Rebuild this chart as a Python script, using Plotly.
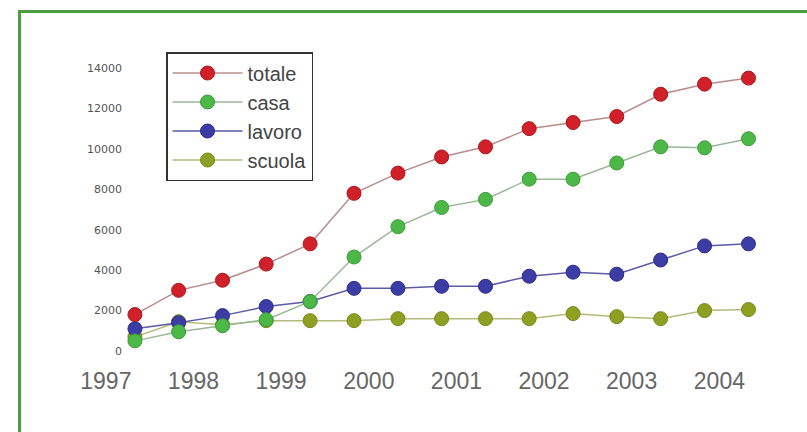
import plotly.graph_objects as go

# semester observation dates (x categories)
dates = ["1997-10-01", "1998-04-01", "1998-10-01", "1999-04-01", "1999-10-01",
         "2000-04-01", "2000-10-01", "2001-04-01", "2001-10-01", "2002-04-01",
         "2002-10-01", "2003-04-01", "2003-10-01", "2004-04-01", "2004-10-01"]

totale = [1800, 3000, 3500, 4300, 5300, 7800, 8800, 9600, 10100, 11000, 11300, 11600, 12700, 13200, 13500]
casa = [500, 950, 1250, 1550, 2450, 4650, 6150, 7100, 7500, 8500, 8500, 9300, 10100, 10050, 10500]
lavoro = [1100, 1400, 1750, 2200, 2450, 3100, 3100, 3200, 3200, 3700, 3900, 3800, 4500, 5200, 5300]
scuola = [700, 1450, 1300, 1500, 1500, 1500, 1600, 1600, 1600, 1600, 1850, 1700, 1600, 2000, 2050]

year_ticks = ["1997-07-01", "1998-07-01", "1999-07-01", "2000-07-01",
              "2001-07-01", "2002-07-01", "2003-07-01", "2004-07-01"]
year_labels = ["1997", "1998", "1999", "2000", "2001", "2002", "2003", "2004"]
y_ticks = [0, 2000, 4000, 6000, 8000, 10000, 12000, 14000]
y_labels = ["0", "2000", "4000", "6000", "8000", "10000", "12000", "14000"]

W, H = 807, 432

series = [
    # name, values, line color, marker color, marker outline, legend rank
    ("scuola", scuola, "#b4ba7a", "#8ea022", "#76881a", 4),
    ("lavoro", lavoro, "#5a5aa6", "#3c3ca6", "#2c2c84", 3),
    ("totale", totale, "#b88c8c", "#d2202a", "#a8181e", 1),
    ("casa", casa, "#98b896", "#4cb848", "#3c9a3a", 2),
]

fig = go.Figure()
for name, vals, lc, mc, oc, rank in series:
    fig.add_trace(go.Scatter(
        x=dates, y=vals, name=name, mode="lines+markers",
        line=dict(color=lc, width=1.5),
        marker=dict(color=mc, size=14, line=dict(color=oc, width=1)),
        legendrank=rank, legendgroup=name,
    ))

fig.update_layout(
    width=W, height=H,
    margin=dict(l=0, r=0, t=0, b=0),
    paper_bgcolor="white", plot_bgcolor="white",
    font=dict(family="Liberation Sans, Arial, sans-serif", color="#444"),
    showlegend=True,
    legend=dict(
        x=166 / W, y=1 - 52 / H, xanchor="left", yanchor="top",
        bgcolor="white", bordercolor="#333", borderwidth=1.5,
        font=dict(size=20, color="#444", family="Liberation Sans, Arial, sans-serif"),
        itemwidth=70, traceorder="grouped", tracegroupgap=0,
    ),
    xaxis=dict(
        type="date", domain=[80 / W, 790 / W],
        range=["1997-02-14", "2005-03-23"],
        tickvals=year_ticks, ticktext=year_labels,
        ticklabelshift=-7,
        showgrid=False, zeroline=False, showline=False, ticks="",
        tickfont=dict(size=23, color="#666",
                      family="Liberation Sans, Arial, sans-serif"),
    ),
    yaxis=dict(
        domain=[1 - 365 / H, 1 - 40 / H],
        range=[-693, 15385],
        anchor="free", position=122 / W,
        tickvals=y_ticks, ticktext=y_labels,
        showgrid=False, zeroline=False, showline=False, ticks="",
        tickfont=dict(size=11, color="#555", family="DejaVu Sans, sans-serif"),
    ),
    shapes=[
        dict(type="line", xref="paper", yref="paper",
             x0=19.5 / W, x1=19.5 / W, y0=0, y1=1 - 10 / H,
             line=dict(color="#4a9e40", width=3)),
        dict(type="line", xref="paper", yref="paper",
             x0=18 / W, x1=1, y0=1 - 11.5 / H, y1=1 - 11.5 / H,
             line=dict(color="#4a9e40", width=3)),
    ],
)

fig.write_html("out.html")
